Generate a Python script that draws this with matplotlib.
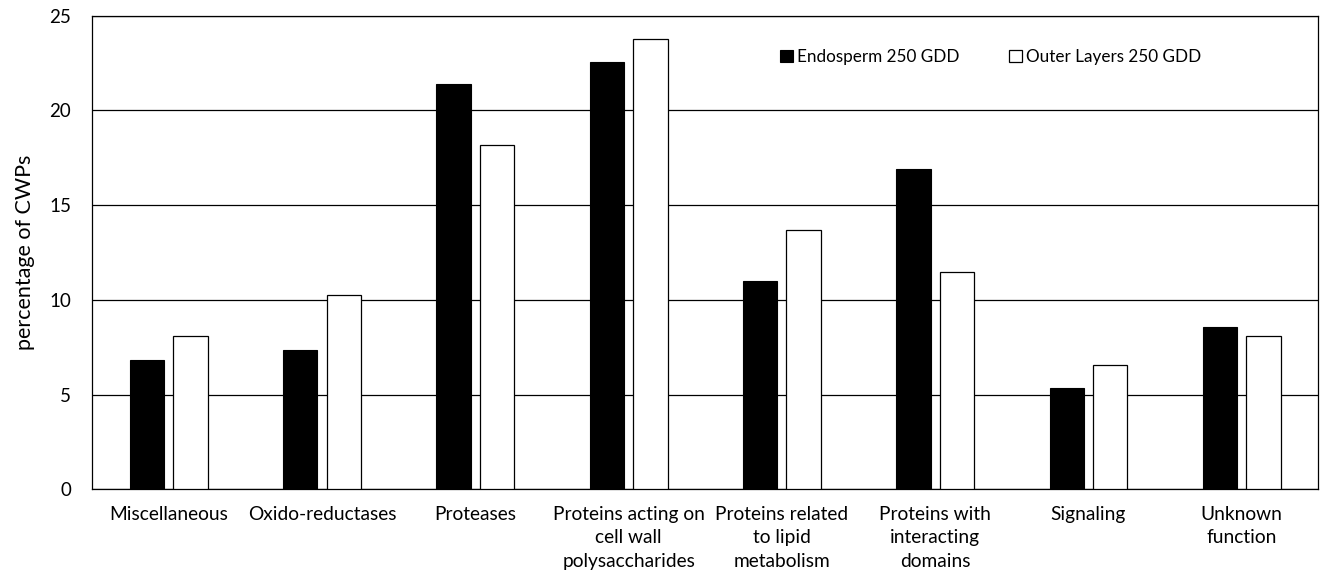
import numpy as np
import matplotlib
matplotlib.use("Agg")
import matplotlib.pyplot as plt

plt.rcParams['font.family'] = ['Lato', 'DejaVu Sans']

categories = ['Miscellaneous', 'Oxido-reductases', 'Proteases',
              'Proteins acting on\ncell wall\npolysaccharides',
              'Proteins related\nto lipid\nmetabolism',
              'Proteins with\ninteracting\ndomains',
              'Signaling', 'Unknown\nfunction']
endosperm = [6.83, 7.37, 21.37, 22.57, 10.97, 16.92, 5.33, 8.59]
outer_layers = [8.08, 10.28, 18.20, 23.75, 13.68, 11.48, 6.58, 8.10]
yticks = [0, 5, 10, 15, 20, 25]

fig = plt.figure(figsize=(13.22, 5.8), dpi=100)
ax = fig.add_axes([0.0696, 0.1564, 0.9277, 0.8165])

x = np.arange(len(categories))
w = 0.224
ax.bar(x - 0.142, endosperm, w, color='black', edgecolor='black',
       linewidth=0.8, label='Endosperm 250 GDD', zorder=3)
ax.bar(x + 0.142, outer_layers, w, color='white', edgecolor='black',
       linewidth=0.9, label='Outer Layers 250 GDD', zorder=3)

ax.set_xlim(-0.5, len(categories) - 0.5)
ax.set_ylim(0, 25)
ax.set_yticks(yticks)
ax.yaxis.grid(True, color='black', linewidth=0.9)
ax.set_axisbelow(True)
for s in ax.spines.values():
    s.set_linewidth(0.9)

ax.set_xticks(x)
ax.set_xticklabels(categories, fontsize=13.8, linespacing=1.45, va='top')
ax.tick_params(axis='x', length=0, pad=12)
ax.tick_params(axis='y', length=0, pad=15, labelsize=13.5)
ax.set_ylabel('percentage of CWPs', fontsize=15.5, labelpad=10)

fig.legend(loc='center', bbox_to_anchor=(991 / 1322, 1 - 57 / 580),
           ncol=2, frameon=False, fontsize=12.3, handlelength=0.75,
           handleheight=0.75, handletextpad=0.25, columnspacing=2.9)

fig.savefig('out.png', dpi=100)
